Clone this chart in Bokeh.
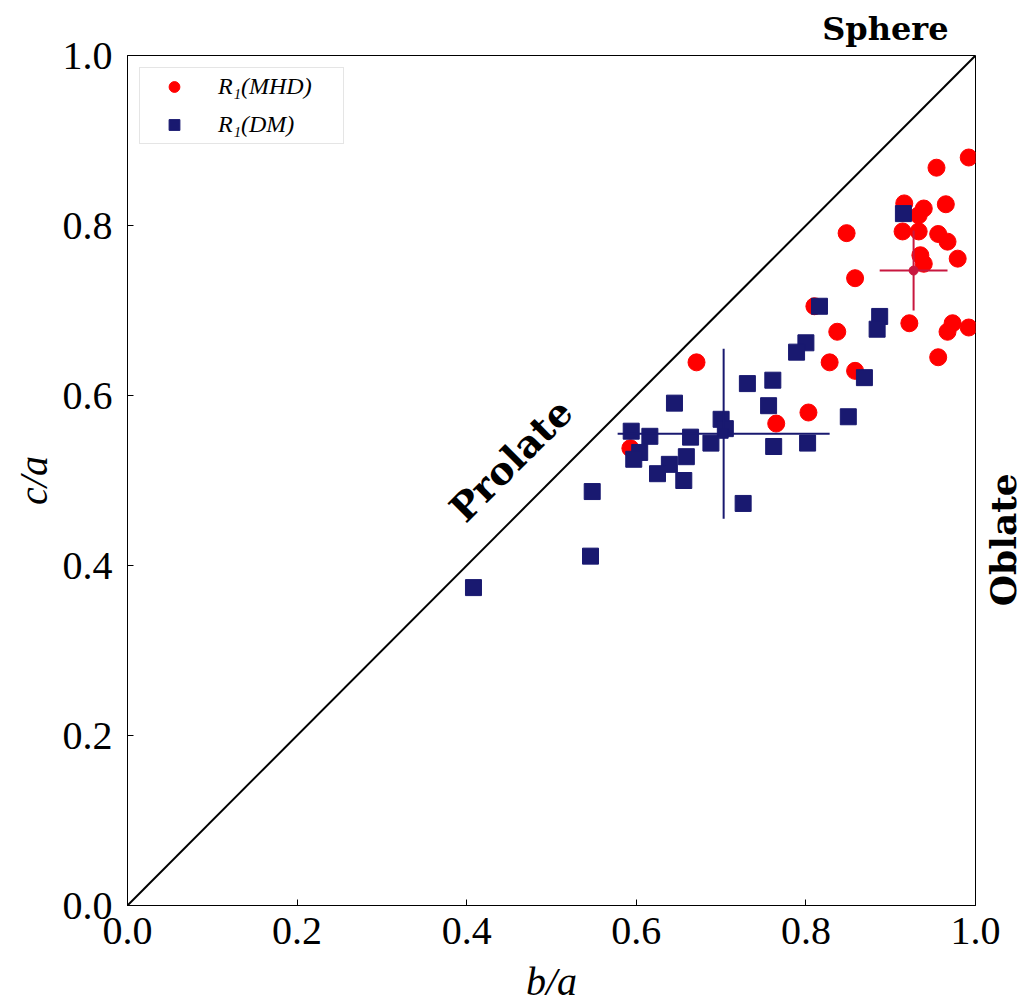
import math
from bokeh.plotting import figure
from bokeh.models import Label, Legend, LegendItem, Range1d, FixedTicker, PrintfTickFormatter, LinearAxis, Title
from bokeh.embed import file_html
from bokeh.resources import INLINE

# R1(MHD) halos: b/a, c/a
mhd_x = [0.954, 0.992, 0.916, 0.939, 0.965, 0.933, 0.914, 0.933, 0.956, 0.967,
         0.848, 0.935, 0.939, 0.979, 0.858, 0.810, 0.922, 0.973, 0.967, 0.992,
         0.837, 0.828, 0.956, 0.858, 0.671, 0.803, 0.765, 0.593]
mhd_y = [0.868, 0.880, 0.826, 0.820, 0.825, 0.812, 0.793, 0.793, 0.790, 0.781,
         0.791, 0.765, 0.755, 0.761, 0.738, 0.705, 0.685, 0.685, 0.675, 0.680,
         0.675, 0.639, 0.645, 0.629, 0.639, 0.580, 0.567, 0.538]

# R1(DM) halos: b/a, c/a
dm_x = [0.915, 0.816, 0.887, 0.884, 0.800, 0.789, 0.869, 0.731, 0.761, 0.756,
        0.645, 0.850, 0.700, 0.705, 0.594, 0.616, 0.664, 0.688, 0.762, 0.802,
        0.604, 0.597, 0.659, 0.639, 0.625, 0.656, 0.548, 0.726, 0.408, 0.546]
dm_y = [0.814, 0.705, 0.693, 0.678, 0.662, 0.651, 0.621, 0.614, 0.618, 0.588,
        0.591, 0.575, 0.572, 0.561, 0.558, 0.552, 0.551, 0.544, 0.540, 0.544,
        0.533, 0.525, 0.528, 0.519, 0.508, 0.500, 0.487, 0.473, 0.374, 0.411]

# mean and spread (MHD, DM)
mean_x = [0.927, 0.703]
mean_y = [0.747, 0.555]
err_x = [0.040, 0.125]
err_y = [0.047, 0.100]
err_colors = ["#c8173f", "#191970"]

ticks = [0.0, 0.2, 0.4, 0.6, 0.8, 1.0]
oblate_at = 0.352

p = figure(frame_width=848, frame_height=850, x_range=Range1d(0, 1), y_range=Range1d(0, 1),
           output_backend="svg", toolbar_location=None,
           min_border_left=127, min_border_right=55, min_border_top=55, min_border_bottom=100)

p.xgrid.visible = False
p.ygrid.visible = False
p.outline_line_color = "black"
p.outline_line_width = 1
p.background_fill_color = "white"
p.border_fill_color = "white"

for ax in (p.xaxis[0], p.yaxis[0]):
    ax.ticker = FixedTicker(ticks=ticks)
    ax.formatter = PrintfTickFormatter(format="%.1f")
    ax.major_tick_in = 6
    ax.major_tick_out = 0
    ax.minor_tick_line_color = None
    ax.axis_line_color = "black"
    ax.major_tick_line_color = "black"
    ax.major_label_text_font = "Liberation Serif"
    ax.major_label_text_font_size = "40px"
    ax.major_label_text_color = "black"
    ax.axis_label_text_font = "Liberation Serif"
    ax.axis_label_text_font_style = "italic"
    ax.axis_label_text_font_size = "40px"
    ax.axis_label_text_color = "black"

p.xaxis[0].major_label_standoff = 12
p.xaxis[0].axis_label_standoff = 12
p.yaxis[0].major_label_standoff = 15
p.yaxis[0].axis_label_standoff = 4

p.xaxis.axis_label = "b/a"
p.yaxis.axis_label = "c/a"

# "Oblate" on the right side, as a single tick label
oblate_axis = LinearAxis(ticker=FixedTicker(ticks=[oblate_at]),
                         major_label_overrides={oblate_at: "Oblate"},
                         axis_line_color=None, major_tick_line_color=None,
                         minor_tick_line_color=None,
                         major_label_text_font="DejaVu Serif", major_label_text_font_style="bold",
                         major_label_text_font_size="36px", major_label_text_color="black",
                         major_label_standoff=22, major_label_orientation=math.pi / 2)
p.add_layout(oblate_axis, "right")

# "Sphere" above the frame, toward the right
p.add_layout(Title(text="Sphere", align="right", offset=27, standoff=12, vertical_align="top",
                   text_font="DejaVu Serif", text_font_style="bold",
                   text_font_size="32px", text_color="black"), "above")

# diagonal b = c
p.line([0, 1], [0, 1], line_color="black", line_width=2)

r1 = p.scatter(mhd_x, mhd_y, marker="circle", size=17, fill_color="red", line_color="red")
r2 = p.scatter(dm_x, dm_y, marker="square", size=16, fill_color="#191970", line_color="#191970")

# error crosses
for mx, my, ex, ey, c in zip(mean_x, mean_y, err_x, err_y, err_colors):
    p.segment(x0=[mx - ex], y0=[my], x1=[mx + ex], y1=[my], line_color=c, line_width=2)
    p.segment(x0=[mx], y0=[my - ey], x1=[mx], y1=[my + ey], line_color=c, line_width=2)
p.scatter([mean_x[0]], [mean_y[0]], marker="circle", size=9, fill_color=err_colors[0], line_color=err_colors[0])
p.scatter([mean_x[1]], [mean_y[1]], marker="square", size=9, fill_color=err_colors[1], line_color=err_colors[1])

legend = Legend(items=[LegendItem(label="R₁(MHD)", renderers=[r1]),
                       LegendItem(label="R₁(DM)", renderers=[r2])],
                location="top_left")
legend.label_text_font = "Liberation Serif"
legend.label_text_font_style = "italic"
legend.label_text_font_size = "24px"
legend.label_text_color = "black"
legend.border_line_color = "#cccccc"
legend.border_line_width = 1
legend.background_fill_alpha = 0.8
legend.margin = 12
legend.padding = 5
legend.spacing = 11
legend.glyph_width = 58
legend.glyph_height = 27
legend.label_standoff = 15
legend.label_width = 120
p.add_layout(legend)

p.add_layout(Label(x=0.452, y=0.524, text="Prolate", text_font="DejaVu Serif",
                   text_font_style="bold", text_font_size="38px", angle=math.pi / 4,
                   text_align="center", text_baseline="middle", text_color="black"))

open("out.html", "w").write(file_html(p, INLINE))
